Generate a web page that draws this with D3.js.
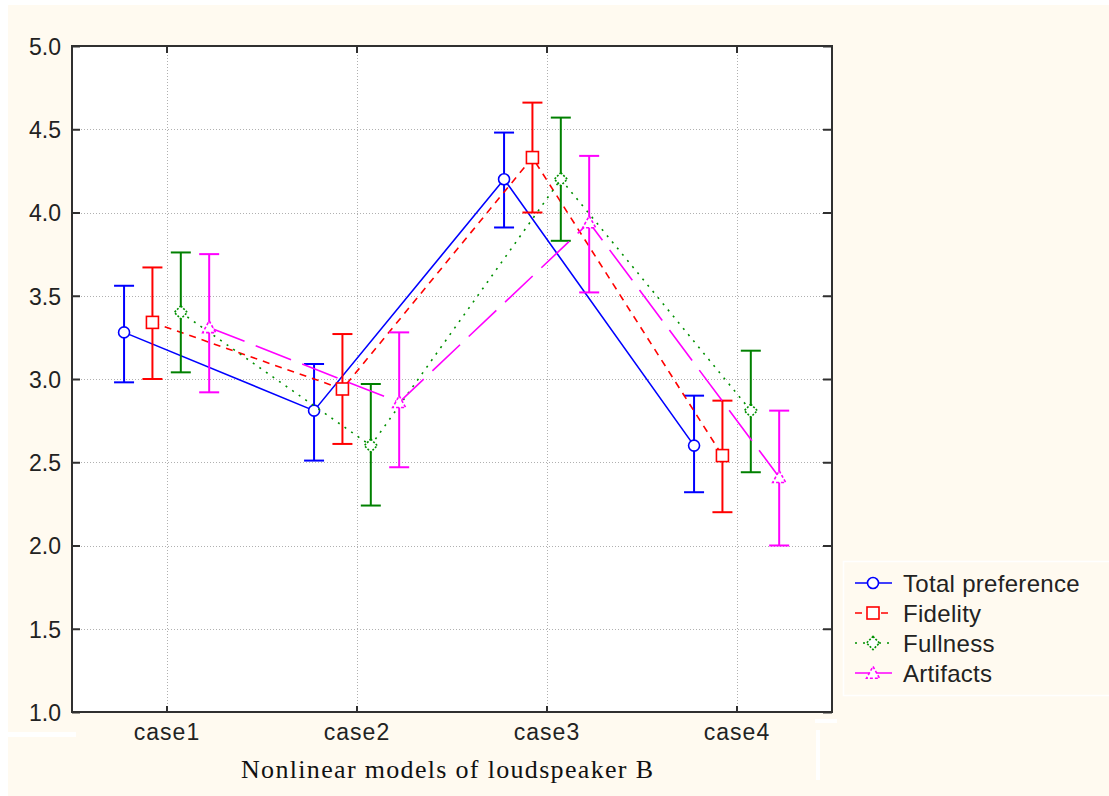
<!DOCTYPE html>
<html>
<head>
<meta charset="utf-8">
<script src="https://cdn.jsdelivr.net/npm/d3@7"></script>
<style>
  html, body { margin: 0; padding: 0; background: #ffffff; }
  svg { display: block; }
</style>
</head>
<body>
<svg id="chart" width="1109" height="796"></svg>
<script>
const categories = ["case1", "case2", "case3", "case4"];
const seriesNames = ["Total preference", "Fidelity", "Fullness", "Artifacts"];

const totalMean = [3.28, 2.81, 4.20, 2.60];
const totalLow  = [2.98, 2.51, 3.91, 2.32];
const totalHigh = [3.56, 3.09, 4.48, 2.90];

const fidelityMean = [3.34, 2.94, 4.33, 2.54];
const fidelityLow  = [3.00, 2.61, 4.00, 2.20];
const fidelityHigh = [3.67, 3.27, 4.66, 2.87];

const fullnessMean = [3.40, 2.60, 4.20, 2.81];
const fullnessLow  = [3.04, 2.24, 3.83, 2.44];
const fullnessHigh = [3.76, 2.97, 4.57, 3.17];

const artifactsMean = [3.31, 2.86, 3.94, 2.41];
const artifactsLow  = [2.92, 2.47, 3.52, 2.00];
const artifactsHigh = [3.75, 3.28, 4.34, 2.81];

const yTickValues = [1.0, 1.5, 2.0, 2.5, 3.0, 3.5, 4.0, 4.5, 5.0];
const xTitle = "Nonlinear models of loudspeaker B";

// ---- styles ----
const seriesStyle = {
  "Total preference": { color: "#0000ff", bar: "#0000ff", dash: null,    marker: "circle" },
  "Fidelity":         { color: "#ff0000", bar: "#ff0000", dash: "7,6",   marker: "square" },
  "Fullness":         { color: "#009000", bar: "#008000", dash: "2,6",   marker: "diamond" },
  "Artifacts":        { color: "#ff00ff", bar: "#ff00ff", dash: "38,12", marker: "triangle" }
};

const seriesData = [
  { name: seriesNames[0], mean: totalMean, low: totalLow, high: totalHigh },
  { name: seriesNames[1], mean: fidelityMean, low: fidelityLow, high: fidelityHigh },
  { name: seriesNames[2], mean: fullnessMean, low: fullnessLow, high: fullnessHigh },
  { name: seriesNames[3], mean: artifactsMean, low: artifactsLow, high: artifactsHigh }
];

const svg = d3.select("#chart");
const W = 1109, H = 796;
const plot = { left: 72, right: 832, top: 46, bottom: 712 };

// background
svg.append("rect").attr("x", 0).attr("y", 0).attr("width", W).attr("height", H).attr("fill", "#ffffff");
svg.append("rect").attr("x", 8).attr("y", 5).attr("width", W - 8).attr("height", H - 5).attr("fill", "#fffaf0");
// small white artefacts of the original image
svg.append("rect").attr("x", 0).attr("y", 732).attr("width", 76).attr("height", 5).attr("fill", "#ffffff");
svg.append("rect").attr("x", 815).attr("y", 719).attr("width", 22).attr("height", 4).attr("fill", "#ffffff");
svg.append("rect").attr("x", 816).attr("y", 730).attr("width", 4).attr("height", 50).attr("fill", "#ffffff");

// scales
const x = d3.scaleBand().domain(categories).range([plot.left, plot.right]).padding(0);
const bw = x.bandwidth();
const xInner = d3.scalePoint().domain(seriesNames).range([-0.226 * bw, 0.222 * bw]);
const y = d3.scaleLinear().domain([1, 5]).range([plot.bottom, plot.top]);
const cx = c => x(c) + bw / 2;

// plot area
svg.append("rect")
  .attr("x", plot.left).attr("y", plot.top)
  .attr("width", plot.right - plot.left).attr("height", plot.bottom - plot.top)
  .attr("fill", "#ffffff");

// grid
const grid = svg.append("g").attr("stroke", "#b0b0b0").attr("stroke-width", 1).attr("stroke-dasharray", "1,2");
grid.selectAll("line.gy").data(yTickValues.filter(v => v > 1 && v < 5)).join("line")
  .attr("x1", plot.left).attr("x2", plot.right)
  .attr("y1", d => Math.round(y(d)) + 0.5).attr("y2", d => Math.round(y(d)) + 0.5);
grid.selectAll("line.gx").data(categories).join("line")
  .attr("y1", plot.top).attr("y2", plot.bottom)
  .attr("x1", d => Math.round(cx(d)) + 0.5).attr("x2", d => Math.round(cx(d)) + 0.5);

// axes (ticks inward)
const fontSans = "'Liberation Sans', Arial, sans-serif";
const yAxis = d3.axisLeft(y).tickValues(yTickValues).tickFormat(d3.format(".1f")).tickSizeInner(-8).tickSizeOuter(0).tickPadding(11);
const gy = svg.append("g").attr("transform", `translate(${plot.left},0)`).call(yAxis);
gy.select(".domain").remove();
gy.selectAll("line").attr("stroke", "#303030").attr("stroke-width", 2);
gy.selectAll("text").attr("font-family", fontSans).attr("font-size", 23).attr("fill", "#222").attr("dy", "0.36em");

const yAxisR = d3.axisRight(y).tickValues(yTickValues).tickFormat("").tickSizeInner(-9).tickSizeOuter(0);
const gyr = svg.append("g").attr("transform", `translate(${plot.right},0)`).call(yAxisR);
gyr.select(".domain").remove();
gyr.selectAll("line").attr("stroke", "#303030").attr("stroke-width", 2);

const xAxis = d3.axisBottom(x).tickSizeInner(-6).tickSizeOuter(0).tickPadding(12);
const gx = svg.append("g").attr("transform", `translate(0,${plot.bottom})`).call(xAxis);
gx.select(".domain").remove();
gx.selectAll("line").attr("stroke", "#303030").attr("stroke-width", 2);
gx.selectAll("text").attr("font-family", fontSans).attr("font-size", 23).attr("letter-spacing", 1)
  .attr("fill", "#222").attr("dy", "0.71em");

const xAxisT = d3.axisTop(x).tickSizeInner(-7).tickSizeOuter(0).tickFormat("");
const gxt = svg.append("g").attr("transform", `translate(0,${plot.top})`).call(xAxisT);
gxt.select(".domain").remove();
gxt.selectAll("line").attr("stroke", "#303030").attr("stroke-width", 2);

// frame
svg.append("rect")
  .attr("x", plot.left).attr("y", plot.top)
  .attr("width", plot.right - plot.left).attr("height", plot.bottom - plot.top)
  .attr("fill", "none").attr("stroke", "#303030").attr("stroke-width", 2);

// x title
svg.append("text")
  .attr("x", 447).attr("y", 778)
  .attr("text-anchor", "middle")
  .attr("font-family", "'Liberation Serif', 'Times New Roman', serif")
  .attr("font-size", 26)
  .attr("fill", "#111")
  .attr("textLength", 412).attr("lengthAdjust", "spacing")
  .text(xTitle);

// marker drawing
function drawMarker(g, type, px, py, color) {
  const sw = 1.6;
  if (type === "circle") {
    g.append("circle").attr("cx", px).attr("cy", py).attr("r", 5.5)
      .attr("fill", "#fff").attr("stroke", color).attr("stroke-width", sw);
  } else if (type === "square") {
    g.append("rect").attr("x", px - 6).attr("y", py - 6).attr("width", 12).attr("height", 12)
      .attr("fill", "#fff").attr("stroke", color).attr("stroke-width", sw);
  } else if (type === "diamond") {
    const s = 6.5;
    g.append("path").attr("d", `M${px},${py - s}L${px + s},${py}L${px},${py + s}L${px - s},${py}Z`)
      .attr("fill", "#fff").attr("stroke", color).attr("stroke-width", sw).attr("stroke-dasharray", "2,1.5");
  } else if (type === "triangle") {
    const s = 6.5;
    g.append("path").attr("d", `M${px},${py - s}L${px + s},${py + s * 0.8}L${px - s},${py + s * 0.8}Z`)
      .attr("fill", "#fff").attr("stroke", color).attr("stroke-width", sw).attr("stroke-dasharray", "3,2");
  }
}

// series
const lineGen = d3.line().x(d => d.x).y(d => d.y);
const capHalf = 10;

seriesData.forEach(s => {
  const st = seriesStyle[s.name];
  const pts = categories.map((c, i) => ({ x: cx(c) + xInner(s.name), y: y(s.mean[i]), lo: y(s.low[i]), hi: y(s.high[i]) }));
  const g = svg.append("g");
  g.append("path").datum(pts).attr("d", lineGen)
    .attr("fill", "none").attr("stroke", st.color).attr("stroke-width", 1.6)
    .attr("stroke-dasharray", st.dash);
  pts.forEach(p => {
    g.append("line").attr("x1", p.x).attr("x2", p.x).attr("y1", p.lo).attr("y2", p.hi)
      .attr("stroke", st.bar).attr("stroke-width", 2);
    g.append("line").attr("x1", p.x - capHalf).attr("x2", p.x + capHalf).attr("y1", p.lo).attr("y2", p.lo)
      .attr("stroke", st.bar).attr("stroke-width", 2);
    g.append("line").attr("x1", p.x - capHalf).attr("x2", p.x + capHalf).attr("y1", p.hi).attr("y2", p.hi)
      .attr("stroke", st.bar).attr("stroke-width", 2);
  });
  pts.forEach(p => drawMarker(g, st.marker, p.x, p.y, st.color));
});

// legend
const legend = svg.append("g");
legend.append("rect").attr("x", 843.5).attr("y", 561.5).attr("width", 280).attr("height", 134)
  .attr("fill", "#fffaf0").attr("stroke", "#ffffff").attr("stroke-width", 1.5);
const legendRow = d3.scalePoint().domain(seriesNames).range([583, 673]);
seriesNames.forEach(name => {
  const st = seriesStyle[name];
  const ly = legendRow(name);
  legend.append("line").attr("x1", 855).attr("x2", 892).attr("y1", ly).attr("y2", ly)
    .attr("stroke", st.color).attr("stroke-width", 1.6).attr("stroke-dasharray", st.dash);
  drawMarker(legend, st.marker, 873, ly, st.color);
  legend.append("text").attr("x", 903).attr("y", ly).attr("dy", "0.36em")
    .attr("font-family", fontSans).attr("font-size", 24).attr("letter-spacing", 0.3).attr("fill", "#222")
    .text(name);
});
</script>
</body>
</html>
